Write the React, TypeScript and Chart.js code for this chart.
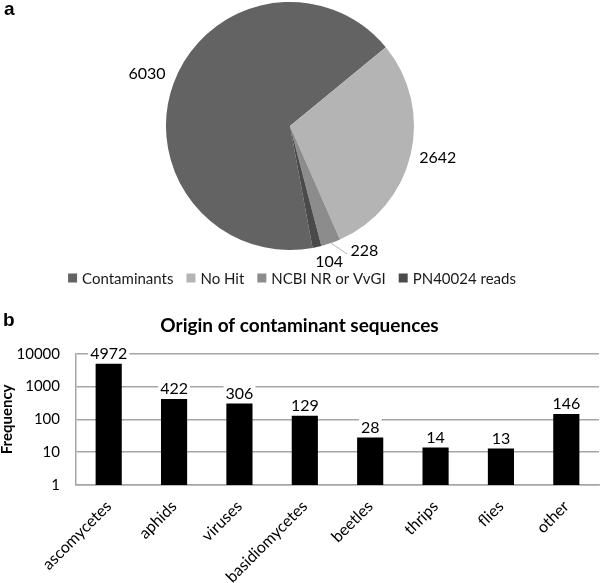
import React, { useEffect, useRef } from 'react';
import { Chart, registerables } from 'chart.js';

Chart.register(...registerables);

// ---- Panel a data ----
const pieLabels = ['Contaminants', 'No Hit', 'NCBI NR or VvGI', 'PN40024 reads'];
const pieValues = [6030, 2642, 228, 104];
const pieColors = ['#636363', '#b4b4b4', '#8c8c8c', '#4a4a4a'];

// ---- Panel b data ----
const barCategories = ['ascomycetes', 'aphids', 'viruses', 'basidiomycetes', 'beetles', 'thrips', 'flies', 'other'];
const barValues = [4972, 422, 306, 129, 28, 14, 13, 146];
const yTickValues = [1, 10, 100, 1000, 10000];

const FONT = 'Lato, "Open Sans", sans-serif';
const PANEL_FONT = 'bold 19px "Liberation Sans", Arial, sans-serif';
const GRID = '#a6a6a6';

const pieExtras = {
  id: 'pieExtras',
  afterDraw(chart: any, _args: any, opts: any) {
    const ctx = chart.ctx;
    const meta = chart.getDatasetMeta(0);
    const ds = chart.data.datasets[0];
    ctx.save();
    ctx.font = `16px ${FONT}`;
    ctx.textAlign = 'center';
    ctx.textBaseline = 'middle';
    meta.data.forEach((arc: any, i: number) => {
      const p = arc.getProps(['x', 'y', 'startAngle', 'endAngle', 'outerRadius'], true);
      const mid = (p.startAngle + p.endAngle) / 2;
      const ux = Math.cos(mid), uy = Math.sin(mid);
      const text = String(ds.data[i]);
      const hw = ctx.measureText(text).width / 2, hh = 8;
      const d = p.outerRadius + 8 + hw * Math.abs(ux) + hh * Math.abs(uy);
      const n = (opts.nudges && opts.nudges[i]) || [0, 0];
      const lx = p.x + ux * d + n[0];
      const ly = p.y + uy * d + n[1];
      if (opts.leaders && opts.leaders[i]) {
        ctx.strokeStyle = '#b8b8b8';
        ctx.lineWidth = 1;
        ctx.beginPath();
        ctx.moveTo(p.x + ux * p.outerRadius, p.y + uy * p.outerRadius);
        ctx.lineTo(lx - hw - 3, ly + 3);
        ctx.stroke();
      }
      ctx.fillStyle = '#000';
      ctx.fillText(text, lx, ly);
    });

    // legend
    ctx.font = `15px ${FONT}`;
    const box = 9, gapText = 5, gapItem = 13;
    const labels: string[] = chart.data.labels;
    const colors: string[] = ds.backgroundColor;
    const widths = labels.map((t) => ctx.measureText(t).width);
    const total = widths.reduce((a, w) => a + box + gapText + w, 0) + gapItem * (labels.length - 1);
    const ca = chart.chartArea;
    let x = (ca.left + ca.right) / 2 + 2 - total / 2;
    const yc = ca.bottom + 28;
    ctx.textAlign = 'left';
    labels.forEach((t, i) => {
      ctx.fillStyle = colors[i];
      ctx.fillRect(x, yc - box / 2, box, box);
      ctx.fillStyle = '#1a1a1a';
      ctx.fillText(t, x + box + gapText, yc + 1);
      x += box + gapText + widths[i] + gapItem;
    });

    // panel letter
    ctx.font = PANEL_FONT;
    ctx.textBaseline = 'alphabetic';
    ctx.fillStyle = '#000';
    ctx.fillText('a', 4, 15);
    ctx.restore();
  },
};

const barExtras = {
  id: 'barExtras',
  afterDatasetsDraw(chart: any) {
    const ctx = chart.ctx;
    const meta = chart.getDatasetMeta(0);
    const ds = chart.data.datasets[0];
    ctx.save();
    ctx.font = `16px ${FONT}`;
    ctx.textAlign = 'center';
    ctx.textBaseline = 'middle';
    meta.data.forEach((bar: any, i: number) => {
      const text = String(ds.data[i]);
      const w = ctx.measureText(text).width;
      const ly = bar.y - 11;
      ctx.fillStyle = '#fff';
      ctx.fillRect(bar.x - w / 2 - 2, ly - 8, w + 4, 16);
      ctx.fillStyle = '#000';
      ctx.fillText(text, bar.x, ly + 1);
    });
    ctx.restore();
  },
  afterDraw(chart: any) {
    const ctx = chart.ctx;
    ctx.save();
    ctx.font = PANEL_FONT;
    ctx.fillStyle = '#000';
    ctx.textBaseline = 'alphabetic';
    ctx.textAlign = 'left';
    ctx.fillText('b', 3, 36);
    ctx.restore();
  },
};

export default function App() {
  const pieRef = useRef<HTMLCanvasElement>(null);
  const barRef = useRef<HTMLCanvasElement>(null);

  useEffect(() => {
    const pie = new Chart(pieRef.current as HTMLCanvasElement, {
      type: 'pie',
      data: {
        labels: pieLabels,
        datasets: [
          {
            data: pieValues,
            backgroundColor: pieColors,
            borderWidth: 0,
            hoverOffset: 0,
          },
        ],
      },
      options: {
        responsive: false,
        animation: false,
        rotation: 169.5,
        layout: { padding: { top: 2, bottom: 40, left: 0, right: 20 } },
        plugins: {
          legend: { display: false },
          tooltip: { enabled: false },
          pieExtras: {
            nudges: [null, [0, -3], [27, -11], [8, -4]],
            leaders: [false, false, true, false],
          },
        } as any,
      },
      plugins: [pieExtras],
    });

    const bar = new Chart(barRef.current as HTMLCanvasElement, {
      type: 'bar',
      data: {
        labels: barCategories,
        datasets: [
          {
            data: barValues,
            backgroundColor: '#000',
            borderWidth: 0,
            barPercentage: 0.4,
            categoryPercentage: 1.0,
          },
        ],
      },
      options: {
        responsive: false,
        animation: false,
        layout: { padding: { left: 0, right: 1, top: 0, bottom: 0 } },
        plugins: {
          legend: { display: false },
          tooltip: { enabled: false },
          title: {
            display: true,
            text: 'Origin of contaminant sequences',
            font: { family: FONT, size: 19, weight: 'bold' },
            color: '#000',
            padding: { top: 24, bottom: 17 },
          },
        },
        scales: {
          x: {
            grid: { display: false, drawTicks: false },
            border: { display: true, color: GRID, width: 1.5 },
            ticks: {
              font: { family: FONT, size: 16 },
              color: '#000',
              maxRotation: 45,
              minRotation: 45,
              autoSkip: false,
              padding: 12,
            },
            afterFit: (s: any) => {
              s.height = 98;
            },
          },
          y: {
            type: 'logarithmic',
            min: 1,
            max: 10000,
            afterBuildTicks: (s: any) => {
              s.ticks = yTickValues.map((v) => ({ value: v }));
            },
            ticks: {
              callback: (v: any) => String(v),
              font: { family: FONT, size: 15 },
              color: '#000',
              padding: 16,
            },
            grid: { color: GRID, lineWidth: 1.5, drawTicks: false },
            border: { display: true, color: GRID, width: 1.5 },
            title: {
              display: true,
              text: 'Frequency',
              font: { family: FONT, size: 15, weight: 'bold' },
              color: '#000',
              padding: { top: -2, bottom: 0 },
            },
            afterFit: (s: any) => {
              s.width = 76;
            },
          },
        },
      },
      plugins: [barExtras],
    });

    return () => {
      pie.destroy();
      bar.destroy();
    };
  }, []);

  return (
    <div style={{ position: 'absolute', left: 0, top: 0, width: 600, height: 583, background: '#fff' }}>
      <canvas ref={pieRef} width={600} height={290} style={{ position: 'absolute', left: 0, top: 0 }} />
      <canvas ref={barRef} width={600} height={293} style={{ position: 'absolute', left: 0, top: 290 }} />
    </div>
  );
}
